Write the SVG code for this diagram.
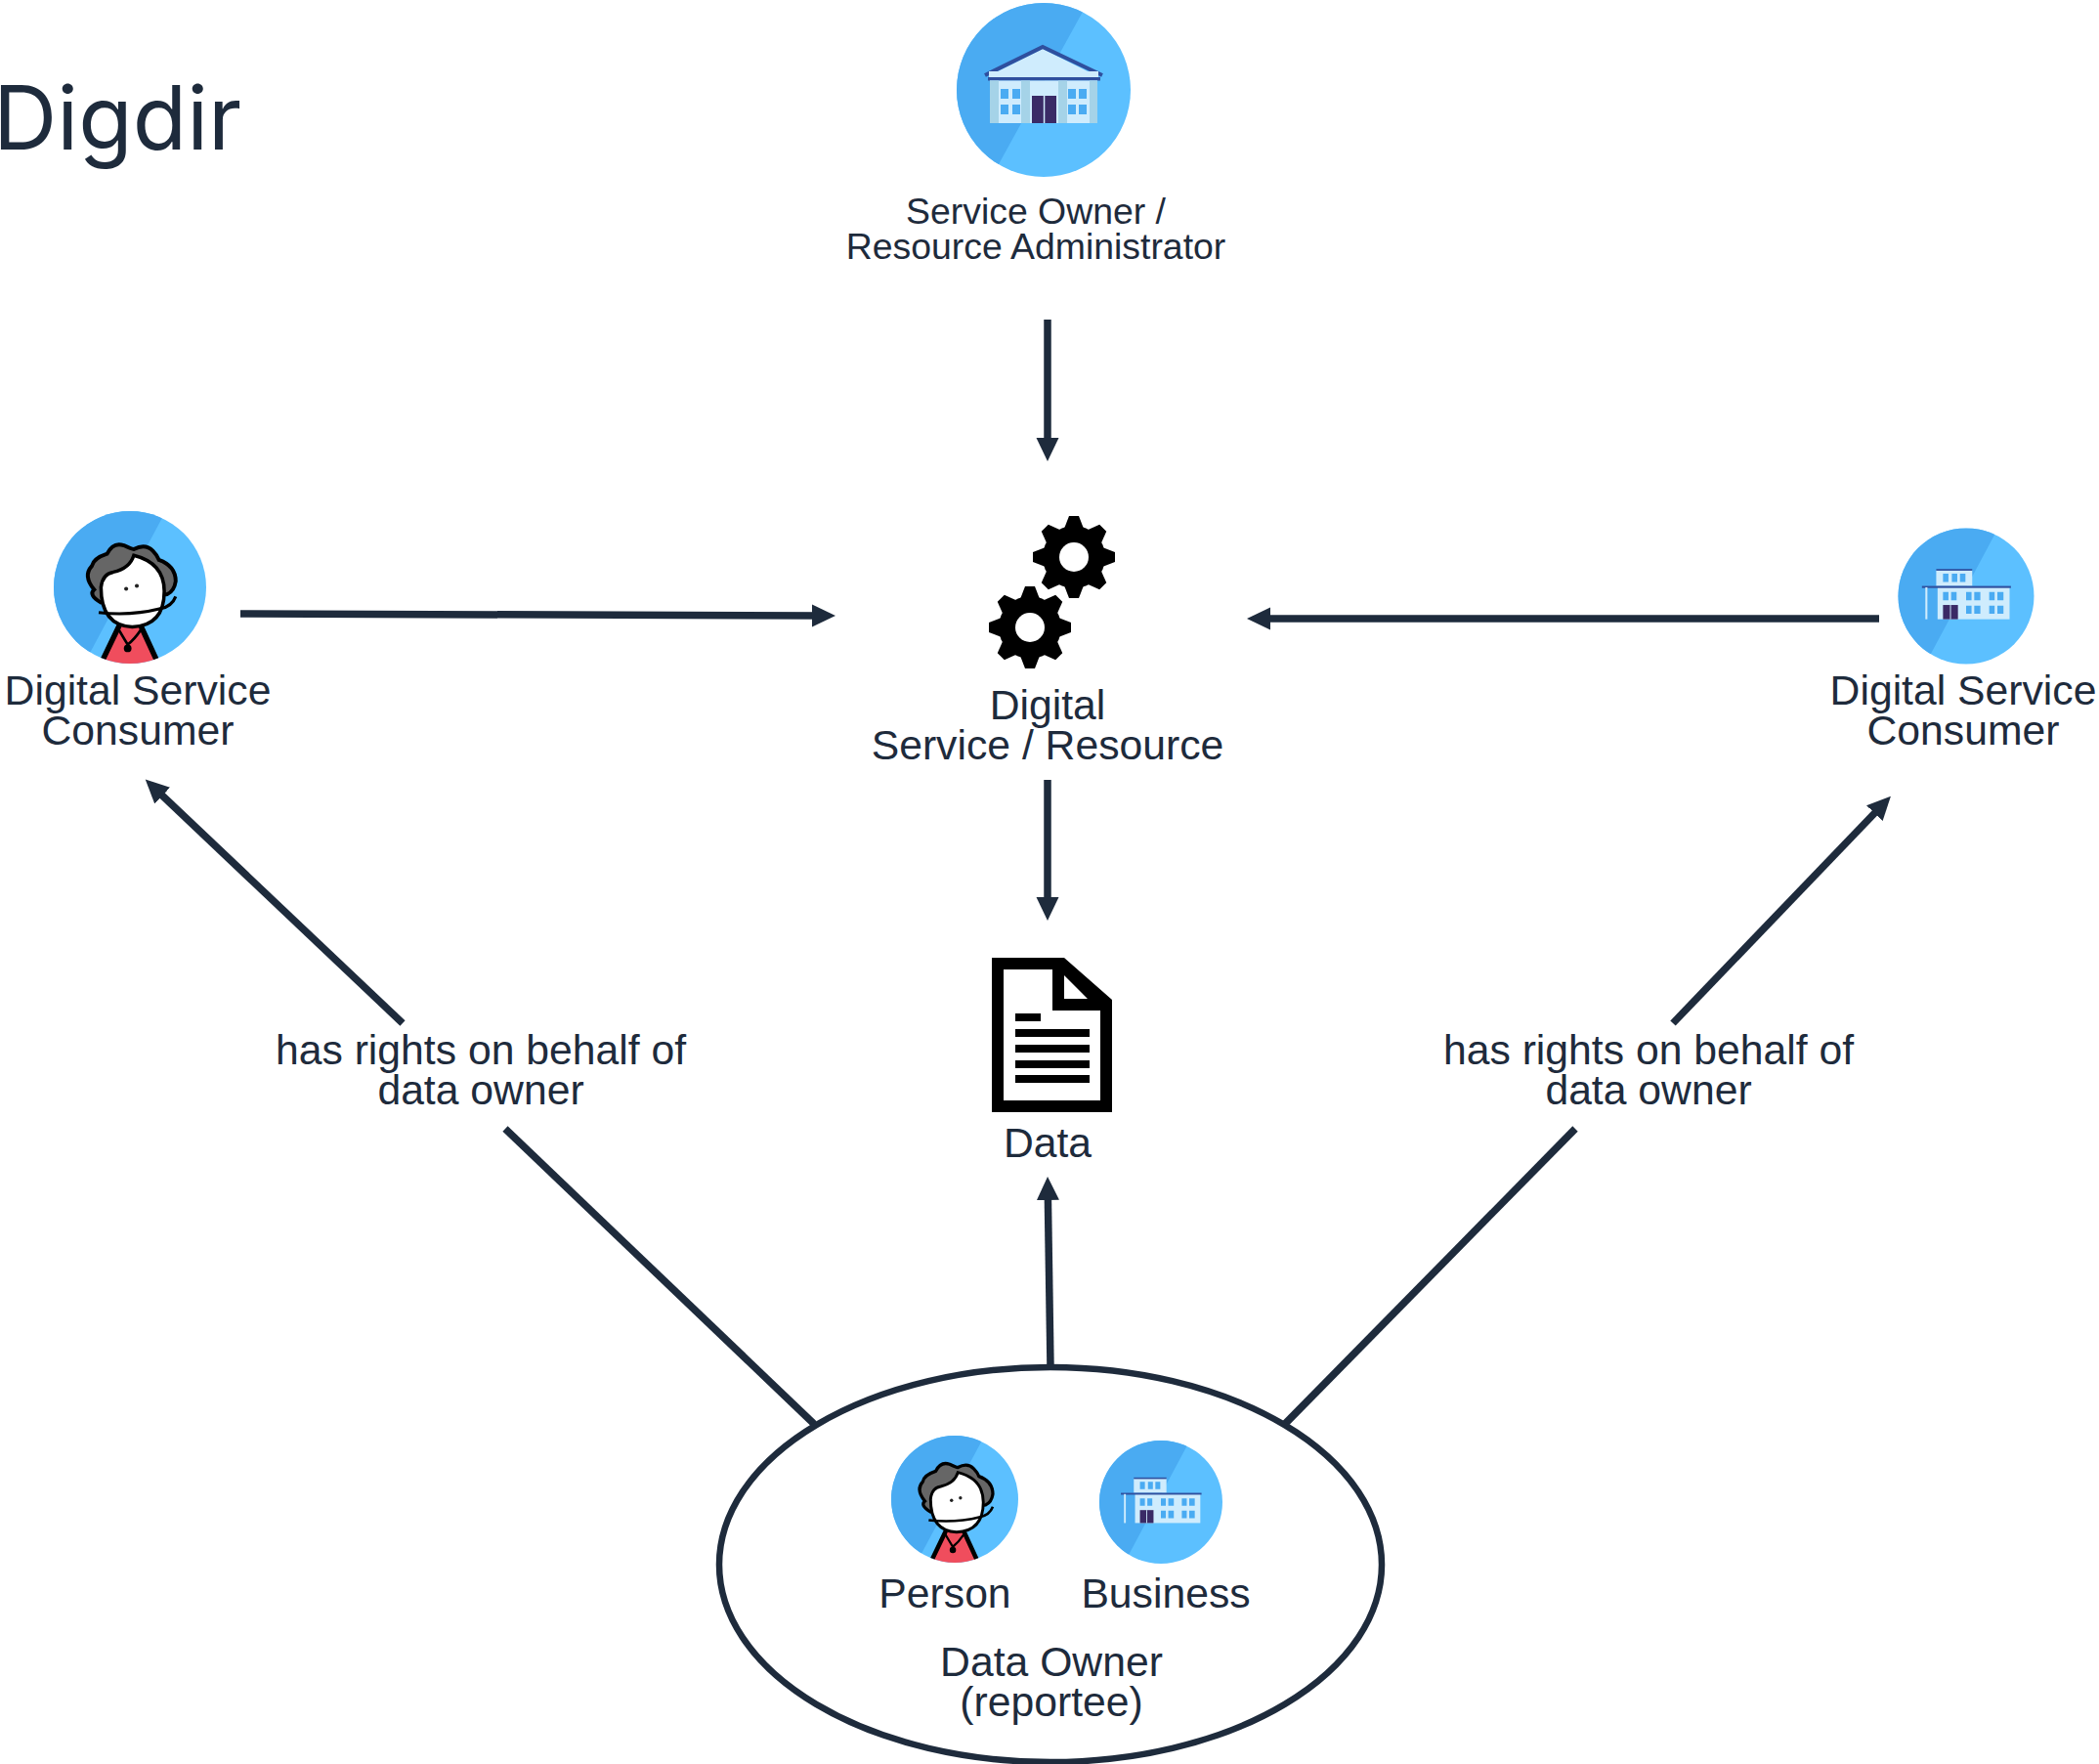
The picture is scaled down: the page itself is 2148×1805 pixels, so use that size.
<svg xmlns="http://www.w3.org/2000/svg" width="2148" height="1805" viewBox="0 0 2148 1805">
<style>
text{font-family:"Liberation Sans",Arial,sans-serif;fill:#1e2b3c;text-anchor:middle}
.l{font-size:42.7px}
.s{font-size:37.4px}
.c{stroke:#1e2b3c;stroke-width:7.5;fill:none}
.d{fill:#4aabf2}.b{fill:#5cc0ff}.w{fill:#cfecfd}.n{fill:#2f4f9e}.o{fill:#3a2a66}.p{fill:#a5d3e8}
</style>
<defs>
<marker id="a" markerUnits="userSpaceOnUse" markerWidth="26" markerHeight="26" refX="14" refY="13" orient="auto"><path d="M0 1.5 L24 13 L0 24.5 Z" fill="#1e2b3c"/></marker>
<clipPath id="cp"><circle cx="0" cy="0" r="100"/></clipPath>
<clipPath id="cpo"><circle cx="1068" cy="92" r="89"/></clipPath>
<g id="disc"><circle r="100" class="b"/><path class="d" d="M47 -100 L-60 100 L-110 100 L-110 -100Z" clip-path="url(#cp)"/></g>
<g id="person"><use href="#disc"/><g clip-path="url(#cp)">
<path d="M-38 102 L-14 50 L14 50 L37 102 Z" fill="#f04d5d"/>
<path d="M-38 100 L-14 50M14 50 L37 100" fill="none" stroke="#000" stroke-width="7"/>
<path d="M-15 55 Q-5 72 -3 75 Q6 68 14 56" fill="none" stroke="#000" stroke-width="3.5"/><circle cx="-3" cy="80" r="5" fill="#000"/>
<path d="M-38 20 Q-55 10 -47 3 Q-62 -15 -50 -28 Q-48 -38 -30 -44 Q-22 -60 -8 -55 Q2 -50 5 -50 Q20 -58 30 -48 Q36 -42 38 -36 Q60 -28 60 -8 Q58 5 49 9 Z" fill="#666" stroke="#000" stroke-width="5"/>
<path d="M-38 0 Q-36 -18 -22 -20 Q0 -25 5 -42 Q45 -32 45 5 Q45 50 3 52 Q-38 50 -38 0Z" fill="#fff" stroke="#000" stroke-width="4.5"/>
<path d="M-41 33 Q0 38 40 28 Q55 25 60 12" fill="none" stroke="#000" stroke-width="4"/>
<circle cx="-5" cy="2" r="2.6" fill="#222"/><circle cx="9" cy="-2" r="2.6" fill="#222"/></g></g>
<g id="biz"><use href="#disc"/>
<rect x="-44" y="-38" width="53" height="23" class="w"/><rect x="-44" y="-40" width="53" height="2.5" class="n"/>
<rect x="-42" y="-13" width="106" height="47" class="w"/><rect x="-65" y="-15" width="131" height="3" class="n"/><rect x="-60" y="-13" width="3" height="47" class="w"/>
<path class="d" d="M-34 -33h8v12h-8zM-21 -33h8v12h-8zM-9 -33h8v12h-8zM-34 -6h8v12h-8zM-22 -6h8v12h-8zM0 -6h8v12h-8zM12 -6h9v12h-9zM34 -6h8v12h-8zM46 -6h9v12h-9zM0 14h8v12h-8zM12 14h9v12h-9zM34 14h8v12h-8zM46 14h9v12h-9z"/>
<rect x="-34" y="13" width="22" height="21" class="o"/><rect x="-23.7" y="13" width="1.4" height="21" class="w"/>
</g>
<g id="gear" fill="#000"><circle r="32"/>
<path id="tooth" d="M-10 -29 L-5 -42 L5 -42 L10 -29 Z"/>
<use href="#tooth" transform="rotate(45)"/><use href="#tooth" transform="rotate(90)"/><use href="#tooth" transform="rotate(135)"/><use href="#tooth" transform="rotate(180)"/><use href="#tooth" transform="rotate(225)"/><use href="#tooth" transform="rotate(270)"/><use href="#tooth" transform="rotate(315)"/>
<circle r="15" fill="#fff"/></g>
</defs>
<rect width="2148" height="1805" fill="#fff"/>
<g id="connectors">
<path class="c" marker-end="url(#a)" d="M1072 327V462"/>
<path class="c" marker-end="url(#a)" d="M246 628L845 630"/>
<path class="c" marker-end="url(#a)" d="M1923 633H1286"/>
<path class="c" marker-end="url(#a)" d="M1072 798V932"/>
<path class="c" marker-end="url(#a)" d="M1075 1398L1072.2 1214"/>
<path class="c" marker-end="url(#a)" d="M412 1047L156 804.500"/>
<path class="c" d="M833 1457L517 1155"/>
<path class="c" marker-end="url(#a)" d="M1712 1047L1928 822"/>
<path class="c" d="M1315 1457L1612 1155"/>
</g>
<text id="title" x="-7" y="153" style="text-anchor:start;font-family:Inter,sans-serif;font-size:90.500px">Digdir</text>
<g id="owner"><circle cx="1068" cy="92" r="89" class="b"/><path class="d" d="M1108 12 L1022 168 L970 190 L970 0 L1108 0Z" clip-path="url(#cpo)"/>
<path d="M1067 50L1017 75H1117Z" class="w"/><path d="M1008 77L1067 48L1128 77" fill="none" stroke="#2f4f9e" stroke-width="4"/>
<rect x="1012" y="73" width="112" height="6" class="w"/><rect x="1011" y="79" width="115" height="3.500" class="n"/>
<rect x="1013" y="82.500" width="110" height="43.500" class="w"/>
<rect x="1013" y="82.500" width="9" height="43.500" class="p"/><rect x="1045" y="82.500" width="9" height="43.500" class="p"/><rect x="1083" y="82.500" width="9" height="43.500" class="p"/><rect x="1115" y="82.500" width="8" height="43.500" class="p"/>
<path class="d" d="M1024 91h8v10h-8zM1036 91h8v10h-8zM1024 107h8v10h-8zM1036 107h8v10h-8zM1093 91h8v10h-8zM1104 91h8v10h-8zM1093 107h8v10h-8zM1104 107h8v10h-8z"/>
<rect x="1056" y="98" width="25" height="28" class="o"/><rect x="1067.800" y="98" width="1.500" height="28" class="w"/>
<text class="s" x="1060" y="229">Service Owner /</text><text class="s" x="1060" y="265">Resource Administrator</text></g>
<g id="consumerL"><use href="#person" transform="translate(133 601) scale(.78)"/><text class="l" x="141" y="721">Digital Service</text><text class="l" x="141" y="762">Consumer</text></g>
<g id="consumerR"><use href="#biz" transform="translate(2012 610) scale(.695)"/><text class="l" x="2009" y="721">Digital Service</text><text class="l" x="2009" y="762">Consumer</text></g>
<g id="service"><use href="#gear" transform="translate(1099 570)"/><use href="#gear" transform="translate(1054 642)"/><text class="l" x="1072" y="736">Digital</text><text class="l" x="1072" y="777">Service / Resource</text></g>
<g id="data"><path fill="#000" fill-rule="evenodd" d="M1015 980H1089L1138 1023V1138H1015ZM1027 992V1126H1126V1034H1077V992ZM1089 998V1022H1113Z"/>
<rect x="1039" y="1037" width="26" height="8" fill="#000"/><rect x="1039" y="1053" width="76" height="8" fill="#000"/><rect x="1039" y="1069" width="76" height="8" fill="#000"/><rect x="1039" y="1085" width="76" height="8" fill="#000"/><rect x="1039" y="1100" width="76" height="8" fill="#000"/>
<text class="l" x="1072" y="1184">Data</text></g>
<g id="rightsL"><text class="l" x="492" y="1089">has rights on behalf of</text><text class="l" x="492" y="1130">data owner</text></g>
<g id="rightsR"><text class="l" x="1687" y="1089">has rights on behalf of</text><text class="l" x="1687" y="1130">data owner</text></g>
<g id="dataOwner"><ellipse cx="1075" cy="1601" rx="339" ry="202" fill="#fff" stroke="#1e2b3c" stroke-width="6.500"/>
<use href="#person" transform="translate(977 1534) scale(.65)"/><use href="#biz" transform="translate(1188 1537) scale(.63)"/>
<text class="l" x="967" y="1645">Person</text><text class="l" x="1193" y="1645">Business</text><text class="l" x="1076" y="1715">Data Owner</text><text class="l" x="1076" y="1756">(reportee)</text></g>
</svg>
